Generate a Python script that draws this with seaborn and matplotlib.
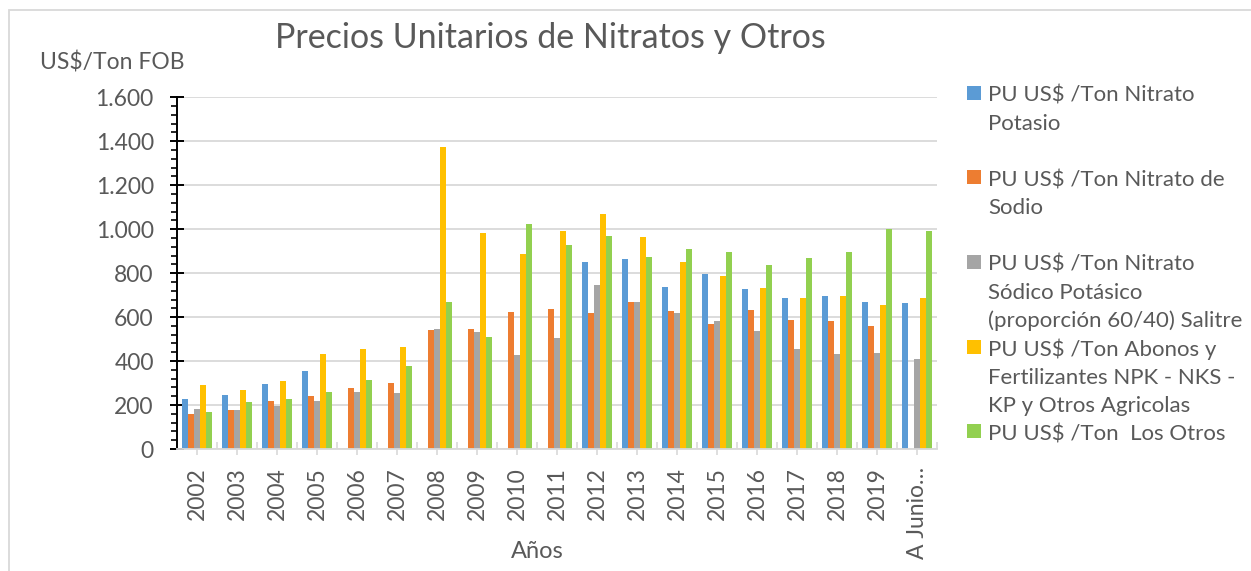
import numpy as np
import pandas as pd
import matplotlib
matplotlib.use("Agg")
import matplotlib.pyplot as plt
from matplotlib.ticker import MultipleLocator, FixedLocator, FuncFormatter
from matplotlib.lines import Line2D
from matplotlib.patches import Rectangle
import seaborn as sns

# ---------------- data ----------------
years = ["2002", "2003", "2004", "2005", "2006", "2007", "2008", "2009", "2010",
         "2011", "2012", "2013", "2014", "2015", "2016", "2017", "2018", "2019",
         "A Junio…"]

nitrato_potasio = [226, 245, 294, 353, np.nan, np.nan, np.nan, np.nan, np.nan,
                   np.nan, 852, 865, 738, 794, 726, 689, 694, 667, 665]
nitrato_sodio = [159, 176, 217, 239, 279, 298, 542, 548, 621,
                 636, 617, 667, 630, 568, 633, 586, 582, 558, np.nan]
nitrato_sodico_potasico = [180, 176, 194, 220, 261, 256, 544, 533, 427,
                           503, 748, 667, 617, 583, 535, 455, 430, 435, 409]
abonos_fertilizantes = [292, 270, 311, 430, 455, 464, 1376, 982, 888,
                        994, 1071, 965, 850, 789, 733, 685, 695, 653, 689]
los_otros = [170, 212, 227, 261, 312, 377, 667, 508, 1024,
             927, 971, 874, 909, 894, 839, 870, 895, 1003, 992]

series_names = [
    "PU US$ /Ton Nitrato Potasio",
    "PU US$ /Ton Nitrato de Sodio",
    "PU US$ /Ton Nitrato Sódico Potásico (proporción 60/40) Salitre",
    "PU US$ /Ton Abonos y Fertilizantes NPK - NKS - KP y Otros Agricolas",
    "PU US$ /Ton  Los Otros",
]
legend_lines = [
    ["PU US$ /Ton Nitrato", "Potasio", ""],
    ["PU US$ /Ton Nitrato de", "Sodio", ""],
    ["PU US$ /Ton Nitrato", "Sódico Potásico", "(proporción 60/40) Salitre"],
    ["PU US$ /Ton Abonos y", "Fertilizantes NPK - NKS -", "KP y Otros Agricolas"],
    ["PU US$ /Ton  Los Otros"],
]
colors = ["#5B9BD5", "#ED7D31", "#A5A5A5", "#FFC000", "#92D050"]

title = "Precios Unitarios de Nitratos y Otros"
ylabel = "US$/Ton FOB"
xlabel = "Años"

values = [nitrato_potasio, nitrato_sodio, nitrato_sodico_potasico,
          abonos_fertilizantes, los_otros]
df = pd.DataFrame({
    "Año": np.tile(years, len(series_names)),
    "Serie": np.repeat(series_names, len(years)),
    "Valor": np.concatenate([np.asarray(v, dtype=float) for v in values]),
})

# ---------------- style ----------------
sns.set_style("white")
plt.rcParams["font.family"] = ["Lato", "DejaVu Sans"]
txt = "#595959"

W, H = 1251, 571
fig = plt.figure(figsize=(W / 100, H / 100), dpi=100)
ax = fig.add_axes([177 / W, 1 - 449 / H, 760 / W, (449 - 97.3) / H])

sns.barplot(data=df, x="Año", y="Valor", hue="Serie", order=years,
            hue_order=series_names, palette=colors, width=0.76, gap=0.12,
            saturation=1, legend=False, ax=ax, edgecolor="none")

ax.set_ylim(0, 1600)
ax.set_xlim(-0.5, len(years) - 0.5)
ax.yaxis.set_major_locator(MultipleLocator(200))
ax.yaxis.set_minor_locator(MultipleLocator(40))
ax.yaxis.set_major_formatter(FuncFormatter(lambda v, p: f"{v:,.0f}".replace(",", ".")))
ax.yaxis.grid(True, color="#d9d9d9", linewidth=1.3)
ax.set_axisbelow(True)

for s in ["top", "right"]:
    ax.spines[s].set_visible(False)
ax.spines["left"].set_color("black")
ax.spines["left"].set_linewidth(1.4)
ax.spines["bottom"].set_color("#d9d9d9")
ax.spines["bottom"].set_linewidth(1.3)

ax.tick_params(axis="y", which="major", direction="inout", length=9.5, width=1.4,
               color="black", labelsize=16.5, labelcolor=txt, pad=12, left=True)
ax.tick_params(axis="y", which="minor", direction="out", length=4, width=1.2,
               color="black", left=True)
ax.xaxis.set_minor_locator(FixedLocator(np.arange(-0.5, len(years), 1.0)))
ax.tick_params(axis="x", which="major", direction="out", length=4, width=1.2,
               color="#d9d9d9", labelsize=16.5, labelcolor=txt, pad=9,
               labelrotation=90, bottom=True)
ax.tick_params(axis="x", which="minor", direction="in", length=5, width=1.2,
               color="#d9d9d9", bottom=True)
ax.set_xlabel("")
ax.set_ylabel("")

fig.text(550 / W, 1 - 48 / H, title, ha="center", va="baseline",
         fontsize=24.5, color=txt)
fig.text(40 / W, 1 - 62 / H, ylabel, ha="left", va="center",
         fontsize=16.5, color=txt)
fig.text(537 / W, 1 - 552 / H, xlabel, ha="center", va="center",
         fontsize=17, color=txt)

# legend (one row per text line, marker on first line of each entry)
handles, labels = [], []
for c, lines in zip(colors, legend_lines):
    for i, line in enumerate(lines):
        if i == 0:
            handles.append(Line2D([], [], marker="s", linestyle="none",
                                  markersize=9.5, color=c, markeredgewidth=0))
        else:
            handles.append(Line2D([], [], linestyle="none"))
        labels.append(line if line else " ")
fs = 16
leg = fig.legend(handles, labels, loc="upper left",
                 bbox_to_anchor=(967 / W, 1 - 84 / H),
                 frameon=False, fontsize=fs, handlelength=0.66,
                 handletextpad=0.3, handleheight=1.0, labelspacing=0.3,
                 borderpad=0, borderaxespad=0)
for t in leg.get_texts():
    t.set_color(txt)

# chart border
fig.patches.append(Rectangle((9 / W, -0.1), 1.2, 1 - 10 / H + 0.1,
                             transform=fig.transFigure, fill=False,
                             edgecolor="#d9d9d9", linewidth=1.3))

fig.savefig("out.png", dpi=100, facecolor="white")
